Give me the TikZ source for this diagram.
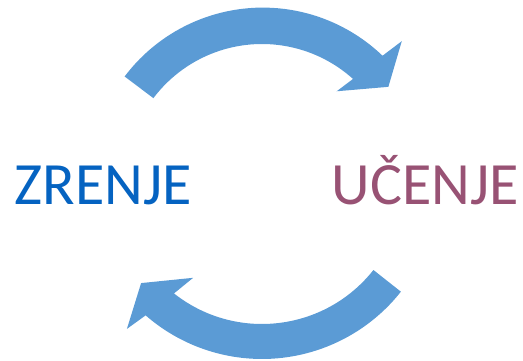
\documentclass[tikz,border=0pt]{standalone}
\usepackage{fontspec}
\setmainfont{Carlito}
\usetikzlibrary{calc}
\definecolor{arrowblue}{HTML}{5B9BD5}
\definecolor{textblue}{HTML}{0563C1}
\definecolor{textpurple}{HTML}{985274}
\tikzset{
  cyclearrow/.style={fill=arrowblue, draw=none},
  label/.style={inner sep=0pt, font=\fontsize{60}{60}\selectfont, anchor=base}
}
\begin{document}
\begin{tikzpicture}[x=1pt,y=1pt]
\useasboundingbox (0,0) rectangle (523,361);
\coordinate (c1) at (262,181);
\coordinate (c2) at (262,179);
% text nodes
\node[label, text=textblue] (zrenje) at (103,156) {ZRENJE};
\node[label, text=textpurple] (ucenje) at (425,156) {UČENJE};
% top arrow
\fill[cyclearrow] ($(c1)+(143:172)$) arc[start angle=143, end angle=46.2, radius=173]
  -- ($(c1)+(44.8:197)$) -- ($(c1)+(36.4:157)$) -- ($(c1)+(49.9:116)$)
  -- ($(c1)+(48:136)$) arc[start angle=48, end angle=143, radius=136] -- cycle;
% bottom arrow
\fill[cyclearrow] ($(c2)+(-38.3:177)$) arc[start angle=-38.3, end angle=-131.1, radius=177]
  -- ($(c2)+(-132.6:199.6)$) -- ($(c2)+(-140.1:157.6)$) -- ($(c2)+(-125.7:118)$)
  -- ($(c2)+(-128.3:142)$) arc[start angle=-128.3, end angle=-38.3, radius=142] -- cycle;
\end{tikzpicture}
\end{document}
